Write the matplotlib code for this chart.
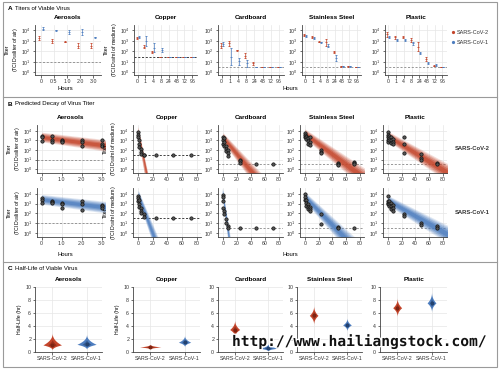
import numpy as np
import matplotlib
matplotlib.use("Agg")
import matplotlib.pyplot as plt
from matplotlib.patches import Rectangle
from matplotlib.lines import Line2D
from matplotlib.ticker import NullLocator
import matplotlib.patheffects as pe

plt.rcParams['font.family'] = ['Liberation Sans', 'DejaVu Sans']
plt.rcParams['mathtext.fontset'] = 'custom'
plt.rcParams['mathtext.rm'] = 'Liberation Sans'
plt.rcParams['mathtext.it'] = 'Liberation Sans:italic'
plt.rcParams['mathtext.bf'] = 'Liberation Sans:bold'

# ---------------- data ----------------
MATERIALS = ["Aerosols", "Copper", "Cardboard", "Stainless Steel", "Plastic"]
CATS_AER = ["0", "0.5", "1.0", "2.0", "3.0"]
CATS_SURF = ["0", "1", "4", "8", "24", "48", "72", "96"]
VIRUSES = ["SARS-CoV-2", "SARS-CoV-1"]
DETECT = [1.0, 1.5, 0.5, 0.5, 0.5]   # log10 detection limit per material

# Panel A: log10 titer (mean) and error half-size, per material
A_V2 = [[3.27, 3.0, 2.9, 2.55, 2.55],
        [3.3, 2.45, 1.95, 1.5, 1.5, 1.5, 1.5, 1.5],
        [2.55, 2.75, 2.1, 1.6, 0.85, 0.5, 0.5, 0.5],
        [3.55, 3.4, 2.9, 2.85, 1.9, 0.6, 0.6, 0.5],
        [3.6, 3.35, 3.35, 3.1, 2.45, 1.25, 0.65, 0.5]]
A_V2_ERR = [[0.2, 0.2, 0.05, 0.2, 0.2],
            [0.1, 0.12, 0.12, 0, 0, 0, 0, 0],
            [0.2, 0.25, 0.05, 0.2, 0.15, 0, 0, 0],
            [0.1, 0.1, 0.05, 0.35, 0.1, 0.05, 0.05, 0],
            [0.2, 0.15, 0.1, 0.2, 0.45, 0.2, 0.05, 0]]
A_V1 = [[4.15, 4.0, 3.8, 3.85, 3.35],
        [3.35, 3.0, 2.35, 2.1, 1.5, 1.5, 1.5, 1.5],
        [2.7, 1.5, 1.05, 0.85, 0.5, 0.5, 0.5, 0.5],
        [3.45, 3.25, 2.85, 2.55, 1.35, 0.6, 0.6, 0.5],
        [3.35, 3.05, 3.1, 2.75, 1.8, 0.85, 0.7, 0.5]]
A_V1_ERR = [[0.15, 0.05, 0.2, 0.3, 0.05],
            [0.1, 0.45, 0.45, 0.2, 0, 0, 0, 0],
            [0.2, 0.8, 0.35, 0.3, 0, 0, 0, 0],
            [0.1, 0.1, 0.05, 0.15, 0.3, 0.05, 0.05, 0],
            [0.12, 0.1, 0.1, 0.12, 0.1, 0.1, 0.05, 0]]

# Panel B: observed points (hours, log10 titer)
B_T_V2 = [[0, 0, 0, 0.5, 0.5, 0.5, 1, 1, 1, 2, 2, 2, 3, 3, 3],
          [0, 0, 0, 1, 1, 1, 4, 4, 4, 8, 8, 24, 48, 72],
          [0, 0, 0, 1, 1, 1, 4, 4, 4, 8, 8, 8, 24, 24, 24, 48, 72],
          [0, 0, 0, 1, 1, 1, 4, 4, 4, 8, 8, 8, 24, 24, 24, 48, 48, 48, 72, 72, 72],
          [0, 0, 0, 0, 0, 1, 1, 1, 4, 4, 4, 8, 8, 8, 24, 24, 24, 48, 48, 48, 72, 72]]
B_V_V2 = [[3.5, 3.4, 2.9, 3.5, 3.0, 2.8, 3.0, 2.9, 2.8, 3.0, 2.8, 2.4, 3.0, 2.6, 2.4],
          [3.9, 3.6, 3.3, 3.0, 2.6, 2.3, 2.1, 1.8, 1.6, 1.5, 1.5, 1.5, 1.5, 1.5],
          [3.3, 3.0, 2.6, 3.2, 2.8, 2.4, 2.4, 2.1, 1.9, 2.0, 1.7, 1.4, 1.0, 0.8, 0.6, 0.5, 0.5],
          [3.8, 3.6, 3.4, 3.5, 3.3, 3.1, 3.2, 2.9, 2.6, 3.3, 2.8, 2.5, 2.0, 1.8, 1.7, 0.65, 0.55, 0.45, 0.75, 0.6, 0.5],
          [3.9, 3.6, 3.3, 3.0, 2.8, 3.5, 3.2, 3.0, 3.3, 3.0, 2.7, 3.1, 2.8, 2.6, 3.3, 2.6, 1.7, 1.6, 1.2, 1.0, 0.65, 0.55]]
B_T_V1 = [[0, 0, 0, 0.5, 0.5, 0.5, 1, 1, 1, 2, 2, 2, 3, 3, 3],
          [0, 0, 0, 1, 1, 1, 4, 4, 4, 8, 8, 24, 48, 72],
          [0, 0, 0, 0, 1, 1, 4, 4, 8, 8, 24, 48, 72],
          [0, 0, 0, 1, 1, 1, 4, 4, 4, 8, 8, 8, 24, 24, 48, 48, 72],
          [0, 0, 0, 0, 1, 1, 1, 4, 4, 4, 8, 8, 8, 24, 24, 48, 48, 72, 72]]
B_V_V1 = [[3.6, 3.4, 3.1, 3.3, 3.2, 3.1, 3.1, 3.0, 2.6, 3.3, 3.0, 2.4, 2.9, 2.8, 2.6],
          [3.8, 3.6, 3.3, 3.4, 3.0, 2.7, 2.6, 2.3, 2.0, 1.9, 1.6, 1.5, 1.5, 1.5],
          [3.9, 3.7, 3.3, 2.6, 2.3, 1.9, 1.4, 1.0, 0.7, 0.5, 0.5, 0.5, 0.5],
          [4.0, 3.7, 3.4, 3.4, 3.1, 2.8, 3.0, 2.7, 2.5, 2.7, 2.5, 2.3, 1.9, 0.9, 0.6, 0.5, 0.5],
          [3.8, 3.3, 3.1, 3.0, 3.3, 3.0, 2.8, 3.1, 2.8, 2.5, 2.9, 2.6, 2.3, 1.9, 1.7, 1.0, 0.8, 0.75, 0.55]]
# Panel B regression: log10 intercept and slope (log10 per hour)
B_A_V2 = [3.35, 3.9, 3.3, 3.7, 3.45]
B_B_V2 = [-0.276, -0.39, -0.087, -0.0535, -0.044]
B_A_V1 = [3.45, 3.9, 4.1, 3.7, 3.35]
B_B_V1 = [-0.255, -0.2, -0.51, -0.072, -0.04]

# Panel C: half-life violins (hours)
C_MED_V2 = [1.09, 0.77, 3.46, 5.63, 6.81]
C_LO_V2 = [0.3, 0.45, 2.3, 4.2, 5.4]
C_HI_V2 = [3.0, 1.2, 5.0, 7.2, 8.4]
C_HW_V2 = [0.27, 0.31, 0.15, 0.13, 0.13]
C_MED_V1 = [1.18, 1.50, 0.59, 4.16, 7.55]
C_LO_V1 = [0.4, 0.8, 0.15, 3.2, 6.1]
C_HI_V1 = [2.8, 2.6, 1.3, 5.3, 9.3]
C_HW_V1 = [0.28, 0.18, 0.3, 0.13, 0.13]

# ---------------- style ----------------
RED = "#c4452b"
BLUE = "#4d7dbf"
RED_D = "#7e2413"
BLUE_D = "#23426f"
GRID = "#e6e6e6"
TS = 3.8
W, H = 500, 370
fig = plt.figure(figsize=(5, 3.7), dpi=100)


def px_axes(l, t, r, b):
    return fig.add_axes([l / W, 1 - b / H, (r - l) / W, (b - t) / H])


def style(ax):
    for s in ['top', 'right']:
        ax.spines[s].set_visible(False)
    for s in ['left', 'bottom']:
        ax.spines[s].set_color('#444')
        ax.spines[s].set_linewidth(0.6)
    ax.tick_params(length=1.8, width=0.5, colors='#333', labelsize=TS, pad=1)
    ax.grid(True, color=GRID, lw=0.5)
    ax.set_axisbelow(True)


def logy(ax, lo, hi):
    ax.set_yscale('log')
    ax.set_ylim(10 ** lo, 10 ** hi)
    ax.set_yticks([1, 10, 100, 1000, 10000])
    ax.set_yticklabels([r"$10^{%d}$" % k for k in range(5)])
    ax.yaxis.set_minor_locator(NullLocator())


def ylab(ax, aer, pad=1):
    unit = "liter of air" if aer else "ml of medium"
    ax.set_ylabel("Titer\n(TCID$_{50}$/%s)" % unit, fontsize=TS, labelpad=pad, linespacing=1.1)


# columns (px)
A_COLS = [(35, 101), (134, 197), (218, 284), (302, 361), (385, 447)]
B_COLS = [(37, 105), (133, 201), (218, 283), (300, 364), (383, 447)]
C_COLS = [(35, 102), (133, 200), (218, 283), (297, 362), (380, 447)]

# ---------------- Panel A ----------------
for i, (l, r) in enumerate(A_COLS):
    ax = px_axes(l, 25, r, 75)
    style(ax)
    cats = CATS_AER if i == 0 else CATS_SURF
    x = np.arange(len(cats))
    logy(ax, -0.25, 4.5)
    ax.axhline(10 ** DETECT[i], ls=(0, (2.5, 2)), color='#222' if i == 1 else '#888', lw=0.6, zorder=1)
    for vals, errs, col, off in [(A_V2[i], A_V2_ERR[i], RED, -0.13), (A_V1[i], A_V1_ERR[i], BLUE, 0.13)]:
        v = np.array(vals)
        e = np.array(errs)
        ax.errorbar(x + off, 10 ** v, yerr=[10 ** v - 10 ** (v - e), 10 ** (v + e) - 10 ** v],
                    fmt='_', ms=2, mew=0.6, color=col, ecolor=col, elinewidth=0.5,
                    capsize=0.9, capthick=0.5, zorder=3)
    ax.set_xticks(x)
    ax.set_xticklabels(cats)
    ax.set_xlim(-0.45, len(cats) - 0.4)
    ax.set_title(MATERIALS[i], fontsize=4.6, fontweight='bold', pad=4)
    if i in (0, 1):
        ylab(ax, i == 0)

fig.text(65 / W, 1 - 89 / H, "Hours", fontsize=4.2, ha='center', va='center')
fig.text(290 / W, 1 - 89 / H, "Hours", fontsize=4.2, ha='center', va='center')
# legend A
for yy, col, lab in [(32, RED, VIRUSES[0]), (42, BLUE, VIRUSES[1])]:
    fig.add_artist(Line2D([453 / W], [1 - yy / H], marker='o', ms=1.3, color=col, lw=0))
    fig.text(457 / W, 1 - yy / H, lab, fontsize=4.0, va='center', ha='left', color='#333')

# ---------------- Panel B ----------------
ROWS_B = [(125, 173), (188, 237)]
for row, (tp, bt) in enumerate(ROWS_B):
    for i, (l, r) in enumerate(B_COLS):
        ax = px_axes(l, tp, r, bt)
        style(ax)
        logy(ax, -0.4, 4.6)
        if i == 0:
            ax.set_xlim(-0.23, 3.15)
            ax.set_xticks([0, 1, 2, 3])
            ax.set_xticklabels(["0", "1.0", "2.0", "3.0"])
            tmax = 3.2
        else:
            ax.set_xlim(-7, 86)
            ax.set_xticks([0, 20, 40, 60, 80])
            tmax = 90
        a = (B_A_V2 if row == 0 else B_A_V1)[i]
        b = (B_B_V2 if row == 0 else B_B_V1)[i]
        col = RED if row == 0 else BLUE
        t = np.linspace(0, tmax, 120)
        fan = abs(b) * 0.12
        for lvl, al in [(1.0, 0.18), (0.85, 0.22), (0.7, 0.3), (0.5, 0.45), (0.3, 0.6)]:
            half = lvl * (0.5 + fan * t)
            ax.fill_between(t, 10 ** (a + b * t - half), 10 ** (a + b * t + half),
                            color=col, alpha=al, lw=0, zorder=2)
        ax.axhline(10 ** DETECT[i], ls=(0, (2.5, 2)), color='#222' if i == 1 else '#888', lw=0.6, zorder=1)
        tt = np.array((B_T_V2 if row == 0 else B_T_V1)[i])
        vv = np.array((B_V_V2 if row == 0 else B_V_V1)[i])
        ax.plot(tt, 10 ** vv, 'o', ms=2.4, mfc='#555', mec='#111', mew=0.5, zorder=4, clip_on=False)
        if row == 0:
            ax.set_title(MATERIALS[i], fontsize=4.6, fontweight='bold', pad=4)
        if i in (0, 1):
            ylab(ax, i == 0)

fig.text(455 / W, 1 - 148 / H, VIRUSES[0], fontsize=4.2, fontweight='bold', va='center', ha='left', color='#333')
fig.text(455 / W, 1 - 213 / H, VIRUSES[1], fontsize=4.2, fontweight='bold', va='center', ha='left', color='#333')
fig.text(65 / W, 1 - 254 / H, "Hours", fontsize=4.2, ha='center', va='center')
fig.text(290 / W, 1 - 254 / H, "Hours", fontsize=4.2, ha='center', va='center')

# ---------------- Panel C ----------------


def violin(ax, x, med, lo, hi, hw, col, dark):
    y = np.linspace(lo, hi, 300)
    d = np.where(y < med, (med - y) / (med - lo), (y - med) / (hi - med))
    w = hw * (1 - np.clip(d, 0, 1)) ** 2.4
    ax.fill_betweenx(y, x - w, x + w, color=col, lw=0, zorder=3)
    y2 = np.linspace(med - 0.45 * (med - lo), med + 0.45 * (hi - med), 200)
    d2 = np.where(y2 < med, (med - y2) / (0.45 * (med - lo)), (y2 - med) / (0.45 * (hi - med)))
    w2 = 0.45 * hw * (1 - np.clip(d2, 0, 1)) ** 1.5
    ax.fill_betweenx(y2, x - w2, x + w2, color=dark, alpha=0.6, lw=0, zorder=4)
    ax.plot([x], [med], 'o', ms=1.8, color=dark, zorder=5)


for i, (l, r) in enumerate(C_COLS):
    ax = px_axes(l, 287, r, 352)
    style(ax)
    ax.set_ylim(0, 10)
    ax.set_yticks([0, 2, 4, 6, 8, 10])
    ax.set_xlim(-0.5, 1.45)
    ax.set_xticks([0, 1])
    ax.set_xticklabels(VIRUSES)
    violin(ax, 0, C_MED_V2[i], C_LO_V2[i], C_HI_V2[i], C_HW_V2[i], RED, RED_D)
    violin(ax, 1, C_MED_V1[i], C_LO_V1[i], C_HI_V1[i], C_HW_V1[i], BLUE, BLUE_D)
    ax.set_title(MATERIALS[i], fontsize=4.6, fontweight='bold', pad=4)
    if i in (0, 1):
        ax.set_ylabel("Half-Life (hr)", fontsize=TS, labelpad=2)

# ---------------- frame & headers ----------------
fig.add_artist(Rectangle((3 / W, 1 - 367 / H), 494 / W, 365 / H, transform=fig.transFigure,
                         fill=False, ec='#9a9a9a', lw=0.8))
for yy in (97, 262):
    fig.add_artist(Line2D([3 / W, 497 / W], [1 - yy / H, 1 - yy / H], color='#9a9a9a', lw=0.8))

for yy, letter, txt in [(8, "A", "Titers of Viable Virus"), (104, "B", "Predicted Decay of Virus Titer"),
                        (269, "C", "Half-Life of Viable Virus")]:
    fig.text(8 / W, 1 - yy / H, letter, fontsize=4.6, fontweight='bold', va='center', ha='left')
    fig.text(15 / W, 1 - yy / H, txt, fontsize=4.3, va='center', ha='left')

wm = fig.text(232 / W, 1 - 341 / H, "http://www.hailiangstock.com/", fontsize=10.5,
              family='DejaVu Sans Mono', fontweight='bold', va='center', ha='left', color='#111', zorder=20)
wm.set_path_effects([pe.withStroke(linewidth=2, foreground='white')])

fig.savefig("out.png", dpi=100)
